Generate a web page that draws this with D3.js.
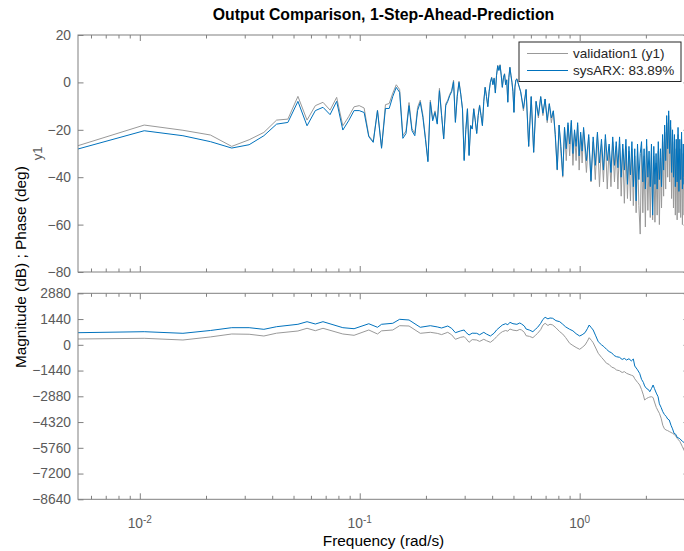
<!DOCTYPE html>
<html>
<head>
<meta charset="utf-8">
<script src="https://cdn.jsdelivr.net/npm/d3@7"></script>
<style>
  body { margin: 0; background: #fff; }
  svg { display: block; font-family: "Liberation Sans", Arial, sans-serif; }
</style>
</head>
<body>
<div id="chart"></div>
<script>
// ===================== DATA =====================
// frequency grid: bin k -> k * df rad/s
const df = Math.PI / 600;

const seriesNames = ["validation1 (y1)", "sysARX: 83.89%"];

// top panel (y1) bins, measured (gray) and model (blue)
const magBins = [1,2,3,4,5,6,7,8,9,10,11,12,13,14,15,16,17,18,19,20,21,22,23,24,25,26,
  27,28,29,30,31,32,33,34,35,36,37,38,39,40,41,42,43,44,45,46,47,48,49,50,
  51,52,53,54,55,56,57,58,59,60,61,62,63,64,65,66,67,68,69,70,71,72,73,74,75,
  76,77,78,79,80,81,82,83,84,85,86,87,88,89,90,91,92,93,94,95,96,97,98,99,100,
  103,106,109,112,115,118,121,124,127,130,133,136,139,142,145,148,151,154,157,160,
  163,166,169,172,175,178,181,184,187,190,193,196,199,
  205,210,215,220,225,230,235,240,245,250,255,260,265,270,275,280,285,290,295,300,
  305,310,315,320,325,330,335,340,345,350,355,360,365,370,375,380,385,390,395,400,
  405,410,415,420,425,430,435,440,445,450,455,460,465,470,475,480,485,490,495,500,
  505,510,515,520,525,530,535,540,545,550,555,560,565,570,575,580,585,590,595,600];

const magMeas = [-26.7,-18.0,-20.2,-22.2,-27.0,-24.2,-21.1,-15.9,-15.5,-5.9,-15.9,-9.8,-8.4,-11.7,-6.3,-18.3,-14.5,-10.3,-9.8,-10.8,-22.5,-24.9,-11.7,-27.4,-9.4,-8.9,
  -4.5,-1.0,-3.0,-22.5,-20.5,-8.5,-19.5,-21.5,-10.5,-7.5,-13.8,-23.3,-33.0,-7.5,-15.5,-12.0,-17.0,-2.5,-13.5,-23.5,-9.0,-7.5,-5.0,-3.5,
  1.0,-16.5,-5.5,0.5,-4.8,-11.0,-32.5,-19.8,-11.0,-30.5,-18.0,-19.5,-11.0,-15.8,-21.4,-13.8,-9.5,-13.8,-18.0,-7.8,-2.0,-5.8,-10.0,-3.8,0.2,
  2.2,-0.8,1.9,-4.3,3.2,7.2,5.2,7.5,3.2,-2.0,2.2,3.7,-0.8,1.2,-8.2,2.2,6.5,3.2,0.2,-3.8,-12.5,-1.8,1.2,1.6,0.2,
  -4,-12,-3,-27,-6,-29.5,-8,-15,-6,-14,-7,-17,-9,-17,-12,-23,-37,-18,-30,-40,
  -19,-33,-18,-31,-17,-35,-21,-33,-18,-37,-22,-34,-20,
  -38,-23,-42,-25,-41,-22,-44,-26,-42,-24,-45,-27,-44,-25,-42,-27,-45,-26,-48,-28,
  -51,-27,-49,-29,-50,-28,-52,-31,-55,-29,-52,-64,-28,-55,-31,-61,-27,-54,-33,-57,
  -30,-58,-31,-59,-34,-56,-29,-60,-32,-53,-25,-48,-21,-45,-17,-40,-14,-42,-19,-49,
  -23,-53,-25,-56,-28,-58,-22,-55,-28,-57,-25,-60,-30,-56,-27,-62,-33,-58,-40,-62];

const magArx = [-28.1,-20.4,-22.5,-25.0,-27.7,-26.3,-22.5,-17.6,-16.9,-8.0,-18.3,-11.9,-10.5,-13.6,-8.0,-20.1,-16.2,-11.9,-11.9,-12.7,-22.9,-25.3,-11.9,-27.8,-11.0,-11.0,
  -5.9,-2.1,-4.2,-23.6,-21.6,-9.8,-20.4,-22.5,-11.9,-8.4,-14.8,-24.0,-33.5,-8.4,-16.2,-12.7,-17.6,-3.5,-14.0,-23.9,-9.8,-8.0,-5.6,-3.9,
  0.3,-16.9,-6.0,0.0,-5.0,-11.2,-33.0,-20.0,-11.2,-30.9,-18.3,-19.7,-11.2,-16.0,-21.6,-14.0,-9.8,-14.0,-18.3,-8.0,-2.1,-6.0,-10.3,-4.0,0.0,
  2.0,-1.0,1.7,-4.5,3.0,7.0,5.0,7.2,3.0,-2.1,2.0,3.5,-1.0,1.0,-8.4,2.0,6.3,3.0,0.0,-4.0,-12.7,-2.0,1.0,1.4,0.0,
  -4,-11,-3,-27,-6,-29.5,-8,-14,-6,-13,-7,-16,-9,-15,-12,-22,-36.8,-18,-27,-39.4,
  -19,-28,-17,-26,-16,-30,-20,-27,-17,-31,-21,-29,-19,
  -33,-22,-41.5,-23,-35,-21,-34,-24,-37,-22,-33,-26,-38,-23,-35,-25,-36,-23,-40,-26,
  -37,-24,-43,-27,-39,-25,-44,-28,-50,-26,-41,-30,-25,-42,-28,-45,-24,-40,-29,-44,
  -26,-56,-27,-43,-30,-45,-25,-41,-28,-44,-22,-37,-18,-33,-14,-28,-12,-30,-16,-38,
  -20,-40,-22,-44,-24,-42,-19,-46,-24,-41,-21,-45,-26,-43,-23,-47,-28,-50,-35,-56];

// bottom panel bins, measured (gray) and model (blue)
const phBins = [1,2,3,4,5,6,7,8,10,11,12,13,16,18,21,23,24,27,29,32,36,40,43,45,48,50,52,55,57,58,
  60,62,65,67,70,72,75,78,80,83,85,88,90,92,95,99,102,104,107,109,113,117,120,123,127,130,133,137,140,144,
  149,155,160,165,172,178,184,191,196,202,207,211,216,220,226,232,240,246,253,260,267,274,281,290,298,305,312,320,328,335,
  340,350,358,365,372,377,385,392,398,405,412,418,426,434,440,448,456,464,472,480,488,497,505,513,522,530,545,560,575,590,600];

const phMeas = [324,363,268,440,604,590,492,650,772,923,789,923,604,531,828,604,780,828,1068,1051,643,699,640,570,699,560,308,420,453,360,
  140,290,268,190,308,230,140,300,453,640,733,800,760,884,820,789,860,828,700,509,470,397,520,643,850,1100,1202,1080,1150,1107,
  950,733,600,400,84,-40,-150,-252,-150,-11,200,397,250,117,-180,-475,-700,-850,-1035,-1100,-1250,-1300,-1409,-1450,-1550,-1500,-1594,-1650,-1700,-1745,
  -1900,-2100,-2248,-2500,-2800,-3087,-3000,-2950,-2920,-2903,-2950,-3200,-3500,-3700,-3831,-4100,-4500,-4700,-4765,-4800,-4850,-4900,-4950,-5000,-5100,-5229,-5400,-5700,-6000,-6400,-6650];

const phArx = [677,733,643,800,957,957,866,1012,1147,1292,1163,1292,957,900,1178,979,1147,1203,1426,1387,979,1068,1000,940,1051,920,677,780,828,700,
  548,650,643,560,699,600,492,650,828,1000,1107,1180,1120,1258,1180,1145,1220,1163,1050,884,820,733,860,979,1200,1420,1538,1450,1500,1482,
  1350,1292,1150,1000,867,780,620,492,560,677,900,1107,950,828,500,173,0,-100,-252,-380,-450,-600,-666,-700,-820,-760,-850,-780,-900,-794,
  -1186,-1400,-1600,-1930,-2100,-2300,-2450,-2500,-2623,-2450,-2248,-2450,-2700,-2903,-3300,-3500,-3742,-3900,-4000,-4150,-4206,-4500,-4700,-4950,-5000,-5173,-5250,-5400,-5500,-5700,-5850];

const magTicks = [20, 0, -20, -40, -60, -80];
const phTicks = [2880, 1440, 0, -1440, -2880, -4320, -5760, -7200, -8640];
const decades = [-2, -1, 0];

// ===================== CHART =====================
const W = 684, H = 551;
const L = 78, R = 689;
const GRAY = "#999999", BLUE = "#0072BD", AX = "#808080", TXT = "#5a5a5a";

const svg = d3.select("#chart").append("svg").attr("width", W).attr("height", H);

const x = d3.scaleLog().domain([df, 600 * df]).range([L, R]);
const yMag = d3.scaleLinear().domain([-80, 20]).range([272, 35]);
const yPh = d3.scaleLinear().domain([-8640, 2880]).range([499.3, 293.3]);

const minorX = [];
[-3, -2, -1, 0].forEach(d => {
  for (let m = 2; m <= 9; m++) {
    const v = m * Math.pow(10, d);
    if (v > df && v < 600 * df) minorX.push(v);
  }
});
const majorX = decades.map(d => Math.pow(10, d));

function rows(bins, vals) { return bins.map((b, i) => ({ f: b * df, v: vals[i] })); }

function panel(id, y, ticks, measVals, arxVals, bins) {
  const [bottom, top] = y.range();
  const g = svg.append("g");

  svg.append("clipPath").attr("id", id)
    .append("rect").attr("x", L).attr("y", top).attr("width", R - L).attr("height", bottom - top);

  const line = d3.line().x(d => x(d.f)).y(d => y(d.v));
  const plot = g.append("g").attr("clip-path", `url(#${id})`);
  plot.append("path").datum(rows(bins, measVals))
    .attr("fill", "none").attr("stroke", GRAY).attr("stroke-width", 1).attr("d", line);
  plot.append("path").datum(rows(bins, arxVals))
    .attr("fill", "none").attr("stroke", BLUE).attr("stroke-width", 1).attr("d", line);

  // x ticks (inward) on bottom and top
  const xb = g.append("g").attr("transform", `translate(0,${bottom})`);
  xb.call(d3.axisBottom(x).tickValues(minorX).tickSize(-3.5).tickFormat(""));
  xb.append("g").call(d3.axisBottom(x).tickValues(majorX).tickSize(-6).tickFormat(""));
  const xt = g.append("g").attr("transform", `translate(0,${top})`);
  xt.call(d3.axisTop(x).tickValues(minorX).tickSize(-3.5).tickFormat(""));
  xt.append("g").call(d3.axisTop(x).tickValues(majorX).tickSize(-6).tickFormat(""));

  // y ticks
  const yl = g.append("g").attr("transform", `translate(${L},0)`)
    .call(d3.axisLeft(y).tickValues(ticks).tickSize(-5.5).tickPadding(7).tickFormat(d3.format("d")));
  yl.selectAll("text").attr("fill", TXT).style("font-size", "13.8px")
    .style("font-family", '"Liberation Sans", Arial, sans-serif');
  g.append("g").attr("transform", `translate(${R},0)`)
    .call(d3.axisRight(y).tickValues(ticks).tickSize(-5.5).tickFormat(""));

  g.selectAll(".domain").remove();
  g.selectAll(".tick line").attr("stroke", AX);

  g.append("rect").attr("x", L).attr("y", top).attr("width", R - L).attr("height", bottom - top)
    .attr("fill", "none").attr("stroke", AX).attr("stroke-width", 1);
  return g;
}

panel("clipMag", yMag, magTicks, magMeas, magArx, magBins);
const gPh = panel("clipPh", yPh, phTicks, phMeas, phArx, phBins);

// decade labels 10^n
majorX.forEach((v, i) => {
  const t = svg.append("text").attr("x", x(v)).attr("y", 528)
    .attr("text-anchor", "middle").attr("fill", TXT).style("font-size", "13.8px");
  t.append("tspan").text("10");
  t.append("tspan").attr("dy", -5).style("font-size", "10px").text(decades[i]);
});

// titles and labels
svg.append("text").attr("x", (L + R) / 2).attr("y", 20).attr("text-anchor", "middle")
  .style("font-size", "15.8px").style("font-weight", "bold").attr("fill", "#000")
  .text("Output Comparison, 1-Step-Ahead-Prediction");

svg.append("text").attr("x", (L + R) / 2).attr("y", 546).attr("text-anchor", "middle")
  .style("font-size", "15.4px").attr("fill", "#000").text("Frequency  (rad/s)");

svg.append("text").attr("transform", `translate(26,${(35 + 499.3) / 2}) rotate(-90)`)
  .attr("text-anchor", "middle").style("font-size", "15.4px").attr("fill", "#000")
  .text("Magnitude (dB) ; Phase (deg)");

svg.append("text").attr("transform", `translate(42,${(35 + 272) / 2}) rotate(-90)`)
  .attr("text-anchor", "middle").style("font-size", "13px").attr("fill", TXT).text("y1");

// legend
const lg = svg.append("g").attr("transform", "translate(519,42)");
lg.append("rect").attr("width", 162).attr("height", 39.5)
  .attr("fill", "#fff").attr("stroke", "#262626").attr("stroke-width", 1);
[GRAY, BLUE].forEach((c, i) => {
  const yy = 11.5 + i * 17;
  lg.append("line").attr("x1", 8).attr("x2", 49).attr("y1", yy).attr("y2", yy)
    .attr("stroke", c).attr("stroke-width", 1);
  lg.append("text").attr("x", 54).attr("y", yy + 4.8).style("font-size", "13.5px")
    .attr("fill", "#262626").text(seriesNames[i]);
});
</script>
</body>
</html>
